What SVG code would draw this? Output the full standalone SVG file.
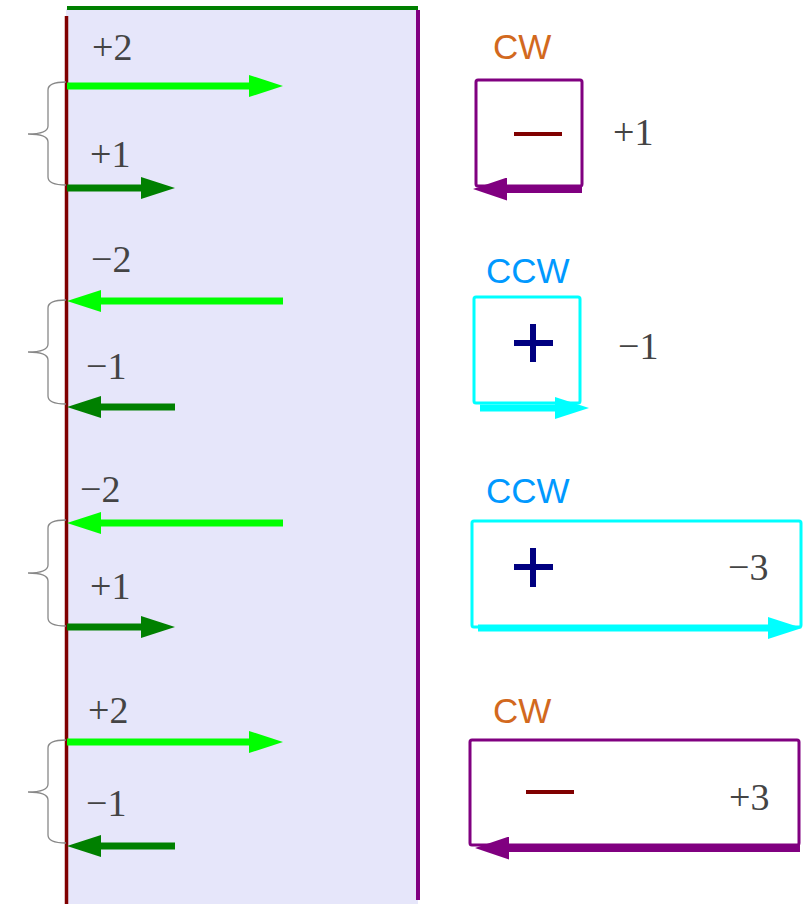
<svg xmlns="http://www.w3.org/2000/svg" width="808" height="904" viewBox="0 0 808 904">
<defs>
<style>
.num{font-family:"Liberation Serif","DejaVu Serif",serif;font-size:38px;fill:#444}
.cw{font-family:"Liberation Sans",Arial,sans-serif;font-size:35px;fill:#d2691e}
.ccw{font-family:"Liberation Sans",Arial,sans-serif;font-size:35px;fill:#0099ff}
.brace{fill:none;stroke:#888;stroke-width:1.3}
.lg{stroke:#00ff00;stroke-width:7;fill:none}
.dg{stroke:#008000;stroke-width:7;fill:none}
.pu{stroke:#800080;stroke-width:8;fill:none}
.cy{stroke:#00ffff;stroke-width:7;fill:none}
.boxp{fill:#fff;stroke:#800080;stroke-width:3}
.boxc{fill:#fff;stroke:#00ffff;stroke-width:3}
.plus{stroke:#000080;stroke-width:6;fill:none}
.minus{stroke:#800000;stroke-width:4;fill:none}
</style>
<marker id="hlg" markerUnits="userSpaceOnUse" markerWidth="34" markerHeight="22" refX="2" refY="11" orient="auto"><path d="M0,0 L34,11 L0,22 z" fill="#00ff00"/></marker>
<marker id="hdg" markerUnits="userSpaceOnUse" markerWidth="34" markerHeight="22" refX="2" refY="11" orient="auto"><path d="M0,0 L34,11 L0,22 z" fill="#008000"/></marker>
<marker id="hpu" markerUnits="userSpaceOnUse" markerWidth="34" markerHeight="23" refX="2" refY="11.5" orient="auto"><path d="M0,0 L34,11.5 L0,23 z" fill="#800080"/></marker>
<marker id="hcy" markerUnits="userSpaceOnUse" markerWidth="34" markerHeight="22" refX="2" refY="11" orient="auto"><path d="M0,0 L34,11 L0,22 z" fill="#00ffff"/></marker>
</defs>
<rect width="808" height="904" fill="#fff"/>
<g id="medium">
<rect x="66" y="9" width="352" height="895" fill="#e6e6fa"/>
<line x1="67" y1="8" x2="418" y2="8" stroke="#008000" stroke-width="4"/>
<line x1="66.5" y1="16" x2="66.5" y2="904" stroke="#800000" stroke-width="3.5"/>
<line x1="418" y1="10" x2="418" y2="900" stroke="#800080" stroke-width="4"/>
</g>
<g id="braces">
<path class="brace" d="M66,82 C54,82 48,84 48,90 L48,126 C48,131 42,134 28,134 C42,134 48,137 48,142 L48,177 C48,183 54,185 66,185"/>
<path class="brace" d="M66,300 C54,300 48,302 48,308 L48,344 C48,349 42,352 28,352 C42,352 48,355 48,360 L48,396 C48,402 54,404 66,404"/>
<path class="brace" d="M66,520 C54,520 48,522 48,528 L48,565 C48,570 42,573 28,573 C42,573 48,576 48,581 L48,618 C48,624 54,626 66,626"/>
<path class="brace" d="M66,740 C54,740 48,742 48,748 L48,784 C48,789 42,792 28,792 C42,792 48,795 48,800 L48,835 C48,841 54,843 66,843"/>
</g>
<g id="labels-left">
<text class="num" x="92" y="60">+2</text>
<text class="num" x="90" y="167">+1</text>
<text class="num" x="91" y="272">−2</text>
<text class="num" x="86" y="379">−1</text>
<text class="num" x="80" y="502">−2</text>
<text class="num" x="90" y="599">+1</text>
<text class="num" x="88" y="723">+2</text>
<text class="num" x="86" y="816">−1</text>
</g>
<g id="box1">
<text class="cw" x="493" y="59">CW</text>
<rect class="boxp" x="476" y="80" width="106" height="106" rx="2"/>
<line class="minus" x1="514" y1="134" x2="562" y2="134"/>
<text class="num" x="613" y="145">+1</text>
</g>
<g id="box2">
<text class="ccw" x="486" y="283">CCW</text>
<rect class="boxc" x="474" y="297" width="106" height="106" rx="2"/>
<path class="plus" d="M514,343 H553 M533,324 V362"/>
<text class="num" x="618" y="359">−1</text>
</g>
<g id="box3">
<text class="ccw" x="486" y="503">CCW</text>
<rect class="boxc" x="472" y="521" width="329" height="106" rx="2"/>
<path class="plus" d="M514,567 H553 M533,548 V587"/>
<text class="num" x="728" y="580">−3</text>
</g>
<g id="box4">
<text class="cw" x="493" y="723">CW</text>
<rect class="boxp" x="470" y="740" width="329" height="105" rx="2"/>
<line class="minus" x1="526" y1="792" x2="574" y2="792"/>
<text class="num" x="729" y="810">+3</text>
</g>
<g id="connectors">
<line class="lg" x1="67" y1="86" x2="251" y2="86" marker-end="url(#hlg)"/>
<line class="dg" x1="67" y1="188" x2="143" y2="188" marker-end="url(#hdg)"/>
<line class="lg" x1="283" y1="301" x2="99" y2="301" marker-end="url(#hlg)"/>
<line class="dg" x1="175" y1="407" x2="99" y2="407" marker-end="url(#hdg)"/>
<line class="lg" x1="283" y1="523" x2="99" y2="523" marker-end="url(#hlg)"/>
<line class="dg" x1="67" y1="627" x2="143" y2="627" marker-end="url(#hdg)"/>
<line class="lg" x1="67" y1="742" x2="251" y2="742" marker-end="url(#hlg)"/>
<line class="dg" x1="175" y1="846" x2="99" y2="846" marker-end="url(#hdg)"/>
<line class="pu" x1="582" y1="189" x2="505" y2="189" marker-end="url(#hpu)"/>
<line class="cy" x1="480" y1="408" x2="557" y2="408" marker-end="url(#hcy)"/>
<line class="cy" x1="478" y1="628" x2="770" y2="628" marker-end="url(#hcy)"/>
<line class="pu" x1="800" y1="848" x2="507" y2="848" marker-end="url(#hpu)"/>
</g>
</svg>
